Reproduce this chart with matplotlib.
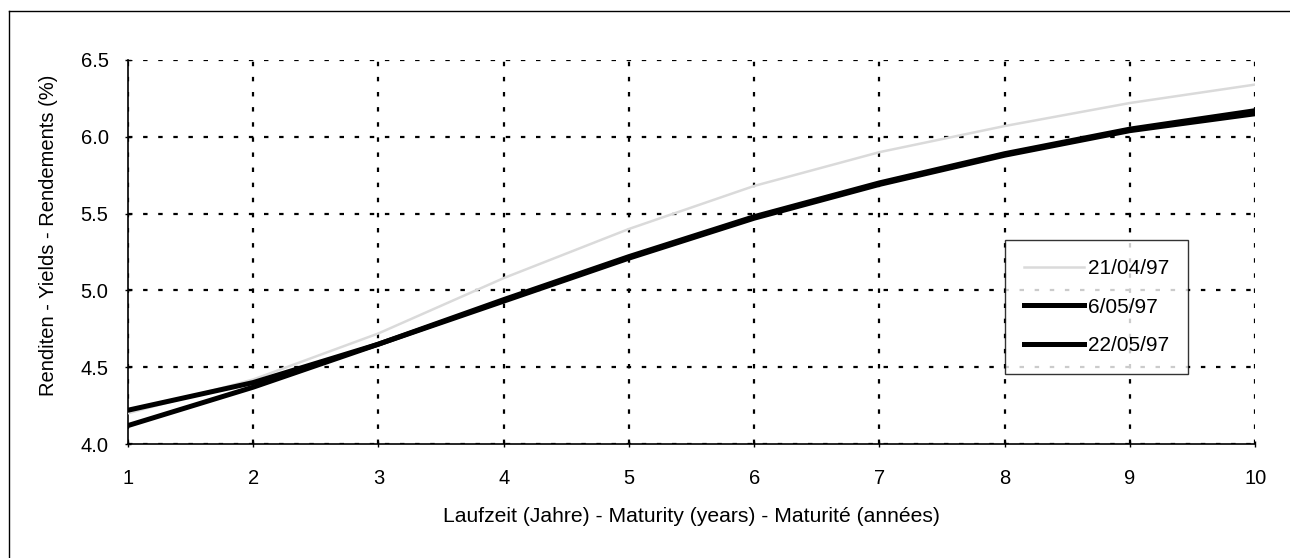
import matplotlib
matplotlib.use("Agg")
import matplotlib.pyplot as plt
from matplotlib.lines import Line2D

plt.rcParams["font.family"] = ["Liberation Sans", "DejaVu Sans"]

# Maturity in years
maturity = [1, 2, 3, 4, 5, 6, 7, 8, 9, 10]

# Yield curves (%)
yields_2104 = [4.20, 4.42, 4.72, 5.08, 5.40, 5.68, 5.90, 6.07, 6.22, 6.34]
yields_0605 = [4.22, 4.40, 4.65, 4.93, 5.21, 5.47, 5.69, 5.88, 6.04, 6.15]
yields_2205 = [4.12, 4.37, 4.65, 4.94, 5.22, 5.48, 5.70, 5.89, 6.05, 6.17]

labels = ["21/04/97", "6/05/97", "22/05/97"]

fig = plt.figure(figsize=(12.9, 5.58), dpi=100)
ax = fig.add_axes([0.0992, 0.2043, 0.8738, 0.6882])

ax.plot(maturity, yields_2104, color="#dadada", lw=1.8, label=labels[0], zorder=3)
ax.plot(maturity, yields_0605, color="black", lw=3.6, label=labels[1], zorder=4)
ax.plot(maturity, yields_2205, color="black", lw=3.6, label=labels[2], zorder=5)

ax.set_xlim(1, 10)
ax.set_ylim(4.0, 6.5)
ax.set_xticks(maturity)
ax.set_yticks([4.0, 4.5, 5.0, 5.5, 6.0, 6.5])
ax.set_yticklabels(["4.0", "4.5", "5.0", "5.5", "6.0", "6.5"])
ax.tick_params(labelsize=14.5, length=4, direction="inout", width=1)
ax.tick_params(axis="y", pad=12)
ax.tick_params(axis="x", pad=16)
ax.grid(True, color="black", linestyle=(0, (2, 4.8)), linewidth=1.6)

for s in ["top", "right"]:
    ax.spines[s].set_visible(False)
ax.spines["left"].set_linewidth(1.2)
ax.spines["bottom"].set_linewidth(1.2)

ax.set_xlabel("Laufzeit (Jahre) - Maturity (years) - Maturité (années)", fontsize=15.2,
              labelpad=14)
ax.set_ylabel("Renditen - Yields - Rendements (%)", fontsize=14.5)
ax.yaxis.set_label_coords(-0.062, 0.544)

leg = ax.legend(loc="upper left", bbox_to_anchor=(0.778, 0.531), frameon=True,
                fancybox=False, edgecolor="black", fontsize=15, handlelength=2.9,
                labelspacing=0.95, borderpad=0.9, handletextpad=0.2, borderaxespad=0)
leg.get_frame().set_linewidth(1.0)

# outer frame of the scanned page
fig.add_artist(Line2D([9 / 1290, 9 / 1290], [0.0, 1 - 11 / 558], color="black", lw=1.0,
                      transform=fig.transFigure))
fig.add_artist(Line2D([9 / 1290, 1.0], [1 - 11 / 558, 1 - 11 / 558], color="black", lw=1.0,
                      transform=fig.transFigure))

fig.savefig("out.png", dpi=100, facecolor="white")
